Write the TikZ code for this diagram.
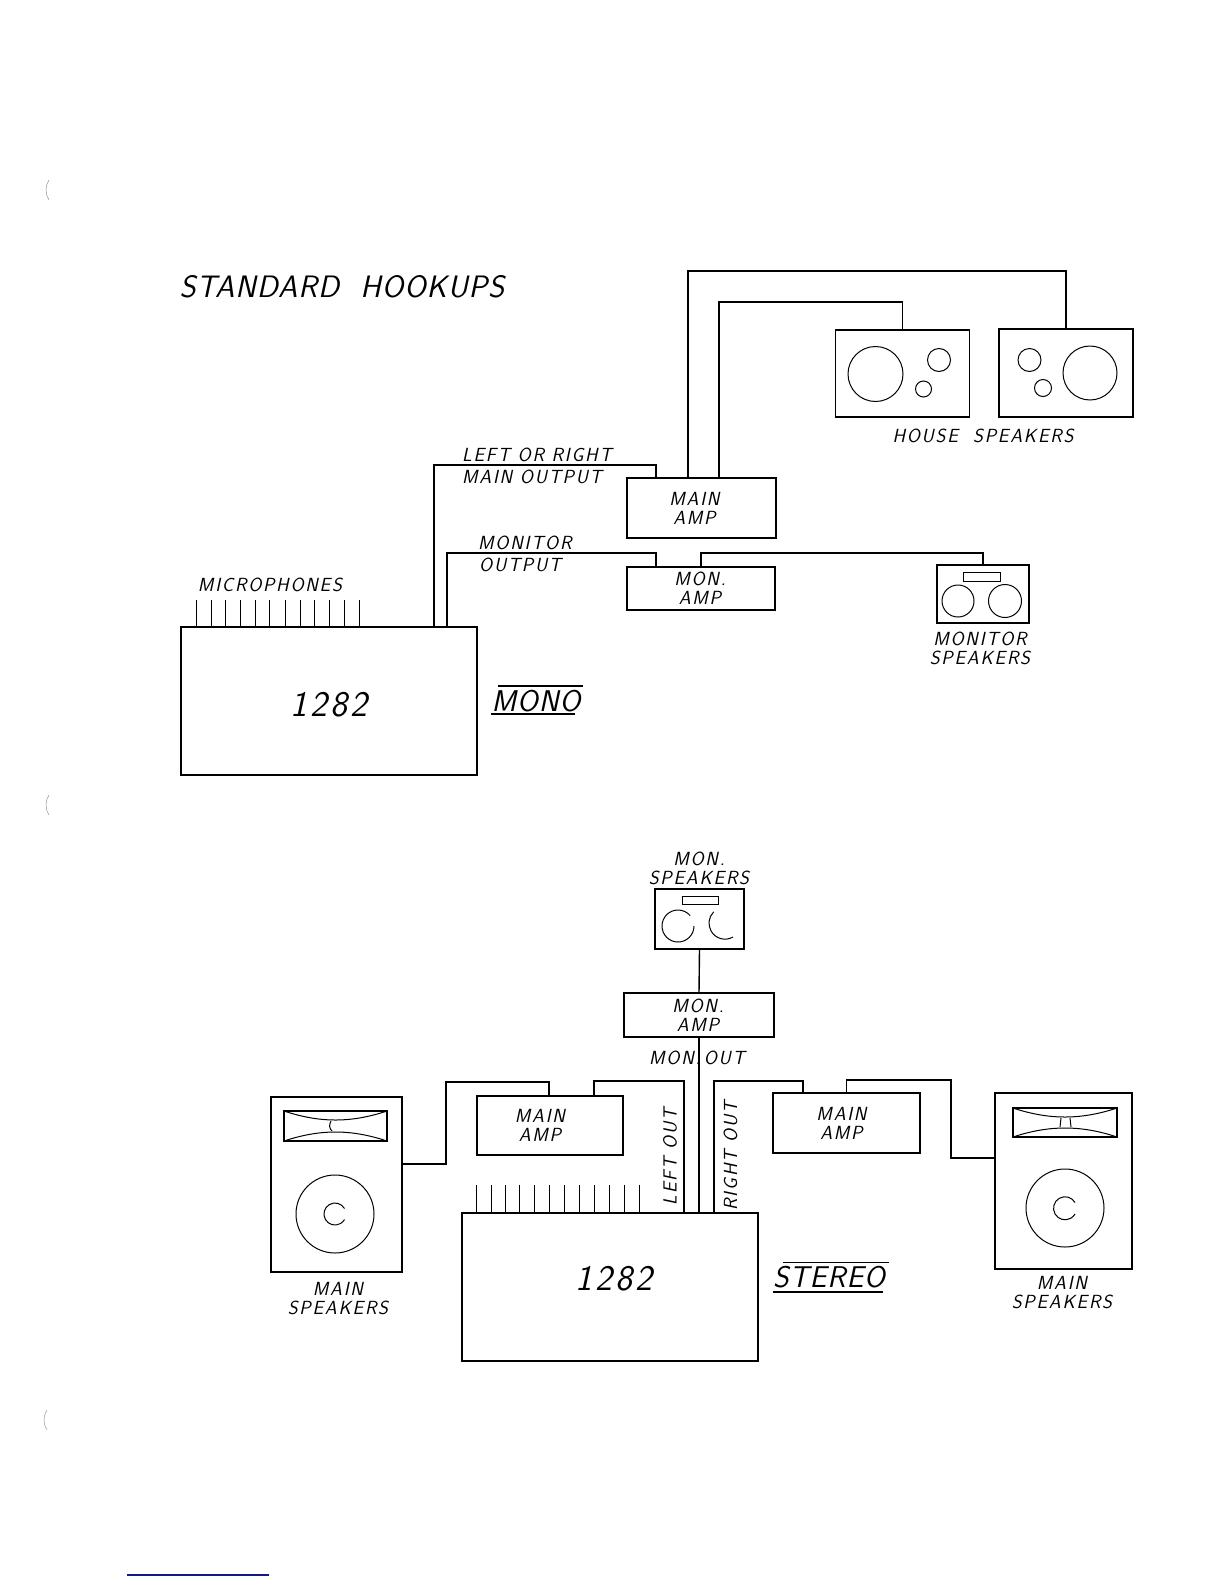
\documentclass[tikz,border=0pt]{standalone}
\usepackage{fontspec}
\usetikzlibrary{calc}

\newfontfamily\lettering[LetterSpace=9]{Latin Modern Sans}
\newfontfamily\biglettering[LetterSpace=3]{Latin Modern Sans}
\newfontfamily\numlettering[LetterSpace=8]{Latin Modern Sans}
\definecolor{rulenavy}{RGB}{15,25,135}

\tikzset{
    lbl/.style={font=\lettering\itshape\fontsize{19}{19}\selectfont, align=center, inner sep=0pt},
    biglbl/.style={font=\biglettering\itshape\fontsize{30}{30}\selectfont, inner sep=0pt},
    numlbl/.style={font=\numlettering\itshape\fontsize{36}{36}\selectfont, inner sep=0pt},
    box/.style={draw, line width=1.6pt, inner sep=0pt, outer sep=0pt},
    wire/.style={line width=1.4pt},
    thinwire/.style={line width=1pt}
}

\begin{document}
\begin{tikzpicture}[x=1pt, y=-1pt]
    \useasboundingbox (0,0) rectangle (1224,1584);

    % title
        \node[font=\biglettering\itshape\fontsize{31}{31}\selectfont, inner sep=0pt] (title) at (342,287) {STANDARD\ \ HOOKUPS};

    % mono boxes
        \node[box, minimum width=296pt, minimum height=148pt, label={[numlbl,yshift=-4pt]center:1282}] (mboard) at (329,701) {};
        \node[box, minimum width=149pt, minimum height=60pt, label={[lbl,xshift=-7pt]center:{MAIN\\AMP}}] (mmainamp) at (701.5,508) {};
        \node[box, minimum width=148pt, minimum height=43pt, label={[lbl,xshift=-1pt]center:{MON.\\AMP}}] (mmonamp) at (701,588.5) {};
        \node[box, minimum width=134pt, minimum height=87pt] (hsa) at (902.5,373.5) {};
        \node[box, minimum width=134pt, minimum height=88pt] (hsb) at (1066,373) {};
        \node[box, minimum width=92pt, minimum height=58pt] (mspk) at (983,594) {};
        \node[box, line width=1pt, minimum width=37pt, minimum height=9pt] (mspkhorn) at (981.5,576.5) {};

    % house speaker cones
        \draw[thinwire] (875.5,374) circle (27.5pt);
        \draw[thinwire] (939,360) circle (11.5pt);
        \draw[thinwire] (923.5,389) circle (8pt);
        \draw[thinwire] (1029.5,360) circle (11.5pt);
        \draw[thinwire] (1043,388) circle (8.5pt);
        \draw[thinwire] (1090,373) circle (27pt);

    % monitor speaker cones
        \draw[thinwire] (958,601) circle (16pt);
        \draw[thinwire] (1005,601) circle (16.5pt);

    % mono wires
        \draw[wire] ([xshift=253pt]mboard.north west) |- ([xshift=29pt,yshift=13pt]mmainamp.north west) -- ([xshift=29pt]mmainamp.north west);
        \draw[wire] ([xshift=266pt]mboard.north west) |- ([xshift=29pt,yshift=14pt]mmonamp.north west) -- ([xshift=29pt]mmonamp.north west);
        \draw[wire] ([xshift=74pt]mmonamp.north west) |- ([yshift=12pt]mspk.north) -- (mspk.north);
        \draw[wire] ([xshift=61pt]mmainamp.north west) |- ([yshift=58pt]hsb.north) -- (hsb.north);
        \draw[wire] ([xshift=92pt]mmainamp.north west) |- ([yshift=28pt]hsa.north) -- (hsa.north);

    % mono microphones
        \foreach \x in {15,30,44,59,74,88,104,119,133,148,163,178}
            \draw[thinwire] ([xshift=\x pt]mboard.north west) -- ++(0,-27);

    % mono labels
        \node[lbl, anchor=west] (mleft) at (462,455) {LEFT OR RIGHT};
        \node[lbl, anchor=west] (mmain) at (462,477) {MAIN OUTPUT};
        \node[lbl, anchor=west] (mmonitor) at (478,543) {MONITOR};
        \node[lbl, anchor=west] (moutput) at (479,565) {OUTPUT};
        \node[lbl] (hslabel) at (983,436) {HOUSE\ \ SPEAKERS};
        \node[lbl] (mspklabel) at (980,648) {MONITOR\\SPEAKERS};
        \node[lbl] (miclabel) at (270,585) {MICROPHONES};
        \node[biglbl] (monolabel) at (536,701.5) {MONO};
        \draw[wire] (498,686) -- (583,686);
        \draw[wire] (491,714) -- (575,714);

    % stereo boxes
        \node[box, minimum width=296pt, minimum height=148pt, label={[numlbl,xshift=4pt,yshift=8.5pt]center:1282}] (sboard) at (610,1287) {};
        \node[box, minimum width=150pt, minimum height=44pt, label={[lbl,xshift=-1pt]center:{MON.\\AMP}}] (smonamp) at (699,1015) {};
        \node[box, minimum width=89pt, minimum height=60pt] (smonspk) at (699.5,919) {};
        \node[box, line width=1pt, minimum width=36pt, minimum height=8pt] (smonhorn) at (700,900) {};
        \node[box, minimum width=146pt, minimum height=59pt, label={[lbl,xshift=-10pt]center:{MAIN\\AMP}}] (sampl) at (550,1125.5) {};
        \node[box, minimum width=147pt, minimum height=60pt, label={[lbl,xshift=-5pt]center:{MAIN\\AMP}}] (sampr) at (846.5,1123) {};
        \node[box, minimum width=131pt, minimum height=175pt] (sspkl) at (336.5,1184.5) {};
        \node[box, minimum width=137pt, minimum height=176pt] (sspkr) at (1063.5,1181) {};
        \node[box, minimum width=103pt, minimum height=30pt] (shornl) at (335.5,1126) {};
        \node[box, minimum width=104pt, minimum height=29pt] (shornr) at (1065,1122.5) {};

    % monitor cones are broken in the print
        \draw[thinwire] (694,926) arc (0:-320:16pt);
        \draw[thinwire] (733,937) arc (-60:-225:16pt);

    % horn flares
        \draw[thinwire] (shornl.north west) .. controls +(36,12) and +(-36,12) .. (shornl.north east);
        \draw[thinwire] (shornl.south west) .. controls +(36,-12) and +(-36,-12) .. (shornl.south east);
        \draw[thinwire] (331,1121) .. controls (329,1125) and (329,1128) .. (332,1131);
        \draw[thinwire] (shornr.north west) .. controls +(36,12) and +(-36,12) .. (shornr.north east);
        \draw[thinwire] (shornr.south west) .. controls +(36,-12) and +(-36,-12) .. (shornr.south east);
        \draw[thinwire] (1061,1118) -- (1060,1127);
        \draw[thinwire] (1070,1118) -- (1071,1127);

    % woofers
        \draw[thinwire] (335,1214) circle (39pt);
        \draw[thinwire] (344.5,1208.5) arc (30:330:11pt);
        \draw[thinwire] (1065,1208) circle (39pt);
        \draw[thinwire] (1075,1202.5) arc (30:330:11.5pt);

    % stereo wires
        \coordinate (sbendl) at (446,1082);
        \coordinate (sbendr) at (951,1080);
        \draw[wire] (smonspk.south) -- (smonamp.north);
        \draw[wire] (smonamp.south) -- (sboard.north -| smonamp.south);
        \draw[wire] ([xshift=222pt]sboard.north west) |- ([xshift=117pt,yshift=15pt]sampl.north west) -- ([xshift=117pt]sampl.north west);
        \draw[wire] ([xshift=72pt]sampl.north west) |- (sbendl) |- ([yshift=20.5pt]sspkl.east);
        \draw[wire] ([xshift=252pt]sboard.north west) |- ([xshift=30pt,yshift=12pt]sampr.north west) -- ([xshift=30pt]sampr.north west);
        \draw[wire] (sampr.north) |- (sbendr) |- ([yshift=23pt]sspkr.west);

    % stereo microphones
        \foreach \x in {14,29,43,57,72,87,102,117,132,147,162,177}
            \draw[thinwire] ([xshift=\x pt]sboard.north west) -- ++(0,-28);

    % stereo labels
        \node[lbl] (smonlabel) at (699,868) {MON.\\SPEAKERS};
        \node[lbl] (sout) at (697,1058) {MON.\,OUT};
        \node[lbl, rotate=90] (sleftout) at (670,1157) {LEFT OUT};
        \node[lbl, rotate=90] (srightout) at (730.5,1156) {RIGHT OUT};
        \node[lbl] (smainl) at (338,1299) {MAIN\\SPEAKERS};
        \node[lbl] (smainr) at (1062,1293) {MAIN\\SPEAKERS};
        \node[biglbl] (stereolabel) at (829,1277) {STEREO};
        \draw[thinwire] (783,1262) -- (889,1262);
        \draw[wire] (773,1292) -- (883,1292);

    % marks of the page
        \draw[gray] (49,180) .. controls (45,186) and (45,194) .. (49,200);
        \draw[gray] (49,795) .. controls (45,801) and (45,809) .. (49,815);
        \draw[gray] (47,1410) .. controls (43,1416) and (43,1424) .. (47,1430);
        \draw[rulenavy, line width=1.2pt] (127,1575) -- (269,1575);
\end{tikzpicture}
\end{document}
